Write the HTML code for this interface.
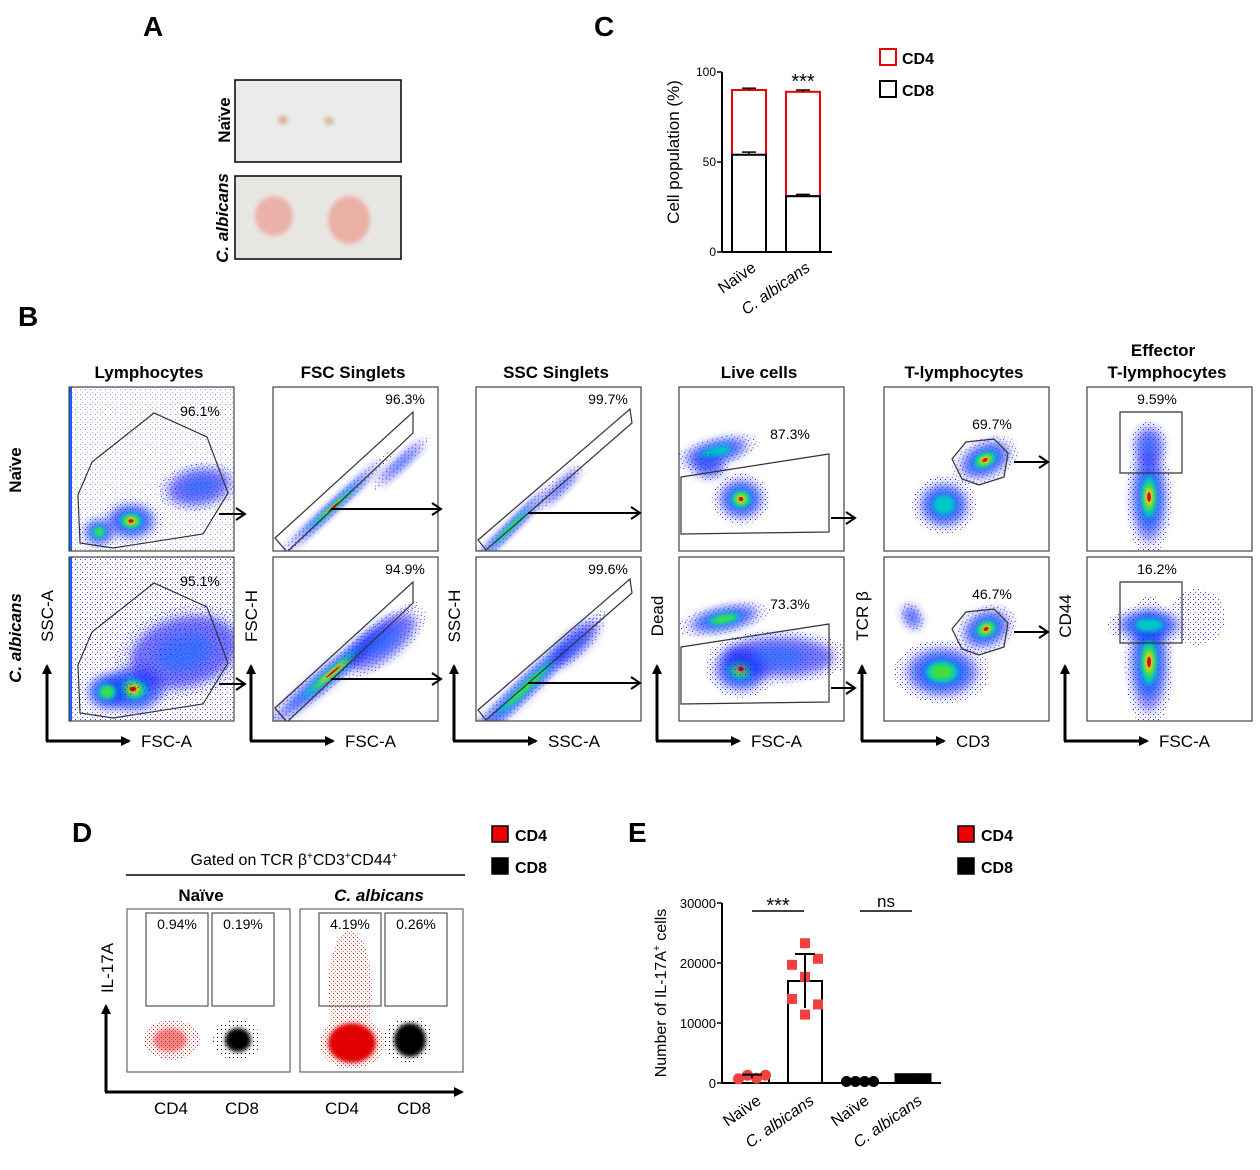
<!DOCTYPE html>
<html><head><meta charset="utf-8">
<style>
html,body{margin:0;padding:0;background:#fff;}
svg{display:block;font-family:"Liberation Sans",Arial,sans-serif;}
</style></head>
<body>
<svg id="fig" width="1260" height="1170" viewBox="0 0 1260 1170" xmlns="http://www.w3.org/2000/svg">
<defs>
<filter id="b2" x="-50%" y="-50%" width="200%" height="200%"><feGaussianBlur stdDeviation="2"/></filter>
<filter id="b5" x="-50%" y="-50%" width="200%" height="200%"><feGaussianBlur stdDeviation="5"/></filter>
<filter id="b10" x="-50%" y="-50%" width="200%" height="200%"><feGaussianBlur stdDeviation="10"/></filter>
<pattern id="speck" width="5" height="5" patternUnits="userSpaceOnUse"><rect x="1" y="2" width="1" height="1" fill="#2020ff"/><rect x="3" y="0" width="1" height="1" fill="#6060ff"/></pattern>
<pattern id="speckR" width="4" height="4" patternUnits="userSpaceOnUse"><rect x="1" y="1" width="1" height="1" fill="#e00000"/><rect x="3" y="3" width="1" height="1" fill="#ff6060"/></pattern>
<pattern id="speckK" width="4" height="4" patternUnits="userSpaceOnUse"><rect x="1" y="1" width="1" height="1" fill="#000"/></pattern>
<marker id="ah" markerWidth="10" markerHeight="10" refX="8" refY="5" orient="auto" markerUnits="userSpaceOnUse"><path d="M0,0 L10,5 L0,10 z" fill="#000"/></marker>
<marker id="oh" markerWidth="12" markerHeight="14" refX="10" refY="7" orient="auto" markerUnits="userSpaceOnUse"><path d="M1,1 L10,7 L1,13" fill="none" stroke="#000" stroke-width="2"/></marker>
</defs>

<g font-weight="bold" font-size="28">
<text x="143" y="36">A</text>
<text x="594" y="36">C</text>
<text x="18" y="326">B</text>
<text x="72" y="842">D</text>
<text x="628" y="842">E</text>
</g>

<g>
<rect x="235" y="80" width="166" height="82" fill="#ebebea" stroke="#000" stroke-width="1.5"/>
<ellipse cx="283" cy="120" rx="5" ry="4" fill="#d9a79a" filter="url(#b2)"/>
<ellipse cx="329" cy="121" rx="5" ry="4" fill="#d7b8a2" filter="url(#b2)"/>
<rect x="235" y="176" width="166" height="83" fill="#e8e6e3" stroke="#000" stroke-width="1.5"/>
<ellipse cx="274" cy="216" rx="19" ry="20" fill="#eab2a8" filter="url(#b2)"/>
<ellipse cx="349" cy="220" rx="21" ry="24" fill="#ebb0a5" filter="url(#b2)"/>
<text transform="translate(230,120) rotate(-90)" text-anchor="middle" font-weight="bold" font-size="17">Naïve</text>
<text transform="translate(228,218) rotate(-90)" text-anchor="middle" font-weight="bold" font-style="italic" font-size="17">C. albicans</text>
</g>

<g id="chartC"></g>
<g id="flowB"></g>
<g id="panelD"></g>
<g id="chartE"></g>
</svg>

<script>
// ---------- Panel C data ----------
const cGroups = ["Naïve", "C. albicans"];
const cCD8 = [54, 31];
const cCD8Err = [1.5, 1];
const cTotal = [90, 89];
const cTotalErr = [1, 1];
const cTicks = [0, 50, 100];

// ---------- Panel E data ----------
const eGroups = ["Naïve", "C. albicans", "Naïve", "C. albicans"];
const eMeans = [1100, 17000, 250, 800];
const eErr = [300, 4500, 50, 100];
const ePoints0 = [700, 1300, 800, 1300];
const ePoints1 = [23300, 20700, 19700, 17700, 14000, 13100, 11400];
const ePoints2 = [250, 250, 250, 250];
const ePoints3 = [800, 800, 800, 800];
const eTicks = [0, 10000, 20000, 30000];

const NS = "http://www.w3.org/2000/svg";
function mk(parent, tag, attrs, text) {
  const el = document.createElementNS(NS, tag);
  for (const k in attrs) el.setAttribute(k, attrs[k]);
  if (text !== undefined) el.textContent = text;
  parent.appendChild(el);
  return el;
}

// ---------- Chart C ----------
(function(){
  const g = document.getElementById('chartC');
  const y0 = 252, y1 = 72, axX = 722;
  const yC = v => y0 - (v / 100) * (y0 - y1);
  const xC = i => 732 + i * 54;
  const bw = 34;
  let ax = mk(g, 'line', {x1: axX, y1: y1, x2: axX, y2: y0, stroke: '#000', 'stroke-width': 2});
  
  
  let xa = mk(g, 'line', {x1: axX, y1: y0, x2: 832, y2: y0, stroke: '#000', 'stroke-width': 2});
  
  
  cTicks.forEach(t => {
    mk(g, 'line', {x1: axX - 5, y1: yC(t), x2: axX, y2: yC(t), stroke: '#000', 'stroke-width': 1.5});
    let tl = mk(g, 'text', {x: axX - 6, y: yC(t) + 4, 'text-anchor': 'end', 'font-size': 12}, t);
    
    
  });
  let yl = mk(g, 'text', {transform: 'translate(679,152) rotate(-90)', 'text-anchor': 'middle', 'font-size': 17}, 'Cell population (%)');
  
  
  cGroups.forEach((gname, i) => {
    const x = xC(i);
    let r4 = mk(g, 'rect', {x: x, y: yC(cTotal[i]), width: bw, height: yC(cCD8[i]) - yC(cTotal[i]), fill: '#fff', stroke: '#e00', 'stroke-width': 2});
    
    
    let r8 = mk(g, 'rect', {x: x, y: yC(cCD8[i]), width: bw, height: y0 - yC(cCD8[i]), fill: '#fff', stroke: '#000', 'stroke-width': 2});
    
    
    [[cTotal[i], cTotalErr[i]], [cCD8[i], cCD8Err[i]]].forEach(([v, e]) => {
      mk(g, 'line', {x1: x + bw/2, y1: yC(v + e), x2: x + bw/2, y2: yC(v), stroke: '#000', 'stroke-width': 1.5});
      mk(g, 'line', {x1: x + 10, y1: yC(v + e), x2: x + bw - 10, y2: yC(v + e), stroke: '#000', 'stroke-width': 1.5});
    });
    let lb = mk(g, 'text', {transform: `translate(${x + bw/2 + 8},${y0 + 18}) rotate(-35)`, 'text-anchor': 'end', 'font-size': 16, 'font-style': i === 1 ? 'italic' : 'normal'}, i === 1 ? 'C. albicans' : gname);
    
    
  });
  let st = mk(g, 'text', {x: xC(1) + bw/2, y: yC(cTotal[1] + cTotalErr[1]) - 2, 'text-anchor': 'middle', 'font-size': 20}, '***');
  
  
  let l1 = mk(g, 'rect', {x: 880, y: 49, width: 16, height: 16, fill: '#fff', stroke: '#e00', 'stroke-width': 2});
  
  
  let l1t = mk(g, 'text', {x: 902, y: 64, 'font-size': 16, 'font-weight': 'bold'}, 'CD4');
  
  
  let l2 = mk(g, 'rect', {x: 880, y: 81, width: 16, height: 16, fill: '#fff', stroke: '#000', 'stroke-width': 2});
  
  
  let l2t = mk(g, 'text', {x: 902, y: 96, 'font-size': 16, 'font-weight': 'bold'}, 'CD8');
  
  
})();

// ---------- Panel B flow plots ----------
(function(){
  const g = document.getElementById('flowB');
  const colX = [69, 273, 476, 679, 884, 1087];
  const rowY = [387, 557];
  const W = 165, H = 164;
  const titles = ["Lymphocytes", "FSC Singlets", "SSC Singlets", "Live cells", "T-lymphocytes", "T-lymphocytes"];
  const pct = [["96.1%","95.1%"],["96.3%","94.9%"],["99.7%","99.6%"],["87.3%","73.3%"],["69.7%","46.7%"],["9.59%","16.2%"]];
  const pctPos = [[131,29],[132,17],[132,17],[111,52],[108,42],[70,17]];
  const xLab = ["FSC-A","FSC-A","SSC-A","FSC-A","CD3","FSC-A"];
  const yLab = ["SSC-A","FSC-H","SSC-H","Dead","TCR β","CD44"];
  const gates = [
    "11,156 9,108 23,75 85,26 138,50 159,106 134,147 44,161",
    "2,151 140,25 140,46 14,165",
    "2,153 154,22 156,36 10,163",
    "2,90 150,67 150,145 2,147",
    "68,72 82,55 110,52 124,66 120,90 95,98 78,92",
    "33,25 95,25 95,86 33,86"
  ];
  titles.forEach((t, c) => {
    const tt = mk(g, 'text', {x: colX[c] + 80, y: 378, 'text-anchor': 'middle', 'font-size': 17, 'font-weight': 'bold'}, t);
    
    
  });
  const ef = mk(g, 'text', {x: colX[5] + 76, y: 356, 'text-anchor': 'middle', 'font-size': 17, 'font-weight': 'bold'}, 'Effector');
  
  

  function blob(p, cx, cy, rx, ry, rot, hot) {
    const tr = `rotate(${rot} ${cx} ${cy})`;
    mk(p, 'ellipse', {cx, cy, rx: rx*1.6, ry: ry*1.6, fill: 'url(#speck)', transform: tr});
    mk(p, 'ellipse', {cx, cy, rx: rx*1.2, ry: ry*1.2, fill: '#1a1aff', opacity: 0.5, filter: 'url(#b5)', transform: tr});
    mk(p, 'ellipse', {cx, cy, rx: rx*0.85, ry: ry*0.85, fill: '#0a5cff', opacity: 0.8, filter: 'url(#b5)', transform: tr});
    mk(p, 'ellipse', {cx, cy, rx: rx*0.55, ry: ry*0.55, fill: '#00c8c8', filter: 'url(#b2)', transform: tr});
    if (hot > 0) mk(p, 'ellipse', {cx, cy, rx: rx*0.38, ry: ry*0.38, fill: '#40e040', filter: 'url(#b2)', transform: tr});
    if (hot > 1) mk(p, 'ellipse', {cx, cy, rx: rx*0.24, ry: ry*0.24, fill: '#ffd000', filter: 'url(#b2)', transform: tr});
    if (hot > 1) mk(p, 'ellipse', {cx, cy, rx: rx*0.13, ry: ry*0.13, fill: '#e00000', transform: tr});
  }
  // blobs: [cx,cy,rx,ry,rot,hot]; hot -1 = speckle only, -2 = blue haze
  const blobs = [
    [[[62,134,20,14,0,2],[130,100,32,18,-10,-2],[30,145,12,10,0,1]], [[64,132,26,18,0,2],[115,95,55,35,-15,-2],[38,135,16,14,0,1],[70,60,60,45,0,-1]]],
    [[[60,120,55,4,-43,2],[128,76,30,5,-43,-2]], [[60,115,70,7,-40,2],[110,85,40,16,-38,-2]]],
    [[[35,140,45,4,-45,1],[85,100,25,5,-45,-2]], [[50,130,70,7,-44,1],[100,86,30,10,-44,-2]]],
    [[[62,112,18,16,0,2],[37,65,28,9,-15,0],[30,80,15,10,0,-2]], [[62,112,22,18,0,2],[45,62,30,9,-12,1],[100,100,55,20,0,-2]]],
    [[[101,73,22,13,-25,2],[60,118,20,18,0,0]], [[102,72,20,14,-25,2],[58,115,30,20,0,1],[28,60,8,12,-30,-2]]],
    [[[62,110,14,38,0,2],[62,60,14,20,0,-2]], [[62,105,15,42,0,2],[62,68,26,12,0,0],[110,60,28,28,0,-1]]]
  ];
  const arrows = [
    [[150,127,176,127],[150,127,176,127]],
    [[58,122,168,122],[58,122,168,122]],
    [[52,126,164,126],[52,126,164,126]],
    [[152,131,176,131],[152,131,176,131]],
    [[130,75,164,75],[130,75,164,75]],
    null
  ];
  colX.forEach((x0, c) => {
    rowY.forEach((y0, r) => {
      const p = mk(g, 'g', {});
      
      
      const cid = 'clip' + c + r;
      const cp = mk(p, 'clipPath', {id: cid});
      mk(cp, 'rect', {x: x0, y: y0, width: W, height: H});
      const inner = mk(p, 'g', {'clip-path': `url(#${cid})`});
      const inn2 = mk(inner, 'g', {transform: `translate(${x0},${y0})`});
      if (c === 0) { mk(inn2, 'rect', {x: 0, y: 0, width: W, height: H, fill: 'url(#speck)', opacity: r ? 0.9 : 0.5}); mk(inn2, 'rect', {x: 0, y: 0, width: 3, height: H, fill: '#1060ff'}); }
      blobs[c][r].forEach(b => {
        if (b[5] === -1) { mk(inn2, 'ellipse', {cx: b[0], cy: b[1], rx: b[2], ry: b[3], fill: 'url(#speck)'}); return; }
        if (b[5] === -2) {
          const tr = `rotate(${b[4]} ${b[0]} ${b[1]})`;
          mk(inn2, 'ellipse', {cx: b[0], cy: b[1], rx: b[2]*1.3, ry: b[3]*1.3, fill: 'url(#speck)', transform: tr});
          mk(inn2, 'ellipse', {cx: b[0], cy: b[1], rx: b[2], ry: b[3], fill: '#1a1aff', opacity: 0.6, filter: 'url(#b5)', transform: tr});
          mk(inn2, 'ellipse', {cx: b[0], cy: b[1], rx: b[2]*0.5, ry: b[3]*0.5, fill: '#1a70ff', opacity: 0.6, filter: 'url(#b5)', transform: tr});
          return;
        }
        blob(inn2, b[0], b[1], b[2], b[3], b[4], b[5]);
      });
      mk(p, 'rect', {x: x0, y: y0, width: W, height: H, fill: 'none', stroke: '#444', 'stroke-width': 1.2});
      const gate = mk(inn2, 'polygon', {points: gates[c], fill: 'none', stroke: '#333', 'stroke-width': 1.2});
      
      
      const pt = mk(p, 'text', {x: x0 + pctPos[c][0], y: y0 + pctPos[c][1], 'text-anchor': 'middle', 'font-size': 14}, pct[c][r]);
      
      
      if (arrows[c]) {
        const a = arrows[c][r];
        mk(p, 'line', {x1: x0 + a[0], y1: y0 + a[1], x2: x0 + a[2], y2: y0 + a[3], stroke: '#000', 'stroke-width': 2, 'marker-end': 'url(#oh)'});
      }
    });
    const ax = colX[c] - 22;
    const ay = 741;
    const va = mk(g, 'line', {x1: ax, y1: ay, x2: ax, y2: 666, stroke: '#000', 'stroke-width': 3, 'marker-end': 'url(#ah)'});
    
    
    const ha = mk(g, 'line', {x1: ax - 1, y1: ay, x2: ax + 82, y2: ay, stroke: '#000', 'stroke-width': 3, 'marker-end': 'url(#ah)'});
    
    
    const xl = mk(g, 'text', {x: ax + 94, y: ay + 6, 'font-size': 17}, xLab[c]);
    
    
    const yl = mk(g, 'text', {transform: `translate(${ax + 6},${616}) rotate(-90)`, 'text-anchor': 'middle', 'font-size': 17}, yLab[c]);
    
    
  });
  const rn = mk(g, 'text', {transform: 'translate(21,470) rotate(-90)', 'text-anchor': 'middle', 'font-size': 17, 'font-weight': 'bold'}, 'Naïve');
  
  
  const rc = mk(g, 'text', {transform: 'translate(21,638) rotate(-90)', 'text-anchor': 'middle', 'font-size': 17, 'font-weight': 'bold', 'font-style': 'italic'}, 'C. albicans');
  
  
})();

// ---------- Panel D ----------
(function(){
  const g = document.getElementById('panelD');
  const t = mk(g, 'text', {x: 294, y: 865, 'text-anchor': 'middle', 'font-size': 16});
  t.innerHTML = 'Gated on TCR β<tspan dy="-6" font-size="10">+</tspan><tspan dy="6">CD3</tspan><tspan dy="-6" font-size="10">+</tspan><tspan dy="6">CD44</tspan><tspan dy="-6" font-size="10">+</tspan>';
  
  
  mk(g, 'line', {x1: 126, y1: 875, x2: 465, y2: 875, stroke: '#000', 'stroke-width': 1.5});
  const n = mk(g, 'text', {x: 201, y: 901, 'text-anchor': 'middle', 'font-size': 17, 'font-weight': 'bold'}, 'Naïve');
  
  
  const ca = mk(g, 'text', {x: 379, y: 901, 'text-anchor': 'middle', 'font-size': 17, 'font-weight': 'bold', 'font-style': 'italic'}, 'C. albicans');
  
  
  const boxes = [[127, ["0.94%","0.19%"], 0], [300, ["4.19%","0.26%"], 1]];
  boxes.forEach(([x0, pc, big]) => {
    const p = mk(g, 'g', {});
    
    
    mk(p, 'rect', {x: x0, y: 909, width: 163, height: 163, fill: '#fff', stroke: '#666', 'stroke-width': 1.2});
    if (big) {
      mk(p, 'ellipse', {cx: x0 + 50, cy: 990, rx: 22, ry: 60, fill: 'url(#speckR)', opacity: 0.9});
      mk(p, 'ellipse', {cx: x0 + 52, cy: 1043, rx: 32, ry: 26, fill: 'url(#speckR)'});
      mk(p, 'ellipse', {cx: x0 + 52, cy: 1043, rx: 24, ry: 20, fill: '#e00000', filter: 'url(#b2)'});
      mk(p, 'ellipse', {cx: x0 + 108, cy: 1040, rx: 25, ry: 22, fill: 'url(#speckK)'});
      mk(p, 'ellipse', {cx: x0 + 110, cy: 1040, rx: 16, ry: 17, fill: '#000', filter: 'url(#b2)'});
    } else {
      mk(p, 'ellipse', {cx: x0 + 45, cy: 1040, rx: 28, ry: 20, fill: 'url(#speckR)'});
      mk(p, 'ellipse', {cx: x0 + 43, cy: 1040, rx: 17, ry: 12, fill: '#e02020', opacity: 0.55, filter: 'url(#b2)'});
      mk(p, 'ellipse', {cx: x0 + 110, cy: 1040, rx: 24, ry: 20, fill: 'url(#speckK)'});
      mk(p, 'ellipse', {cx: x0 + 111, cy: 1040, rx: 13, ry: 12, fill: '#000', filter: 'url(#b2)'});
    }
    [[x0 + 19, pc[0]], [x0 + 85, pc[1]]].forEach(([gx, s]) => {
      const gr = mk(p, 'rect', {x: gx, y: 913, width: 62, height: 93, fill: 'none', stroke: '#555', 'stroke-width': 1.2});
      
      
      const tx = mk(p, 'text', {x: gx + 31, y: 929, 'text-anchor': 'middle', 'font-size': 14}, s);
      
      
    });
  });
  mk(g, 'line', {x1: 106, y1: 1092, x2: 106, y2: 1006, stroke: '#000', 'stroke-width': 3, 'marker-end': 'url(#ah)'});
  mk(g, 'line', {x1: 105, y1: 1092, x2: 462, y2: 1092, stroke: '#000', 'stroke-width': 3, 'marker-end': 'url(#ah)'});
  const il = mk(g, 'text', {transform: 'translate(113,968) rotate(-90)', 'text-anchor': 'middle', 'font-size': 17}, 'IL-17A');
  
  
  [[171,'CD4'],[242,'CD8'],[342,'CD4'],[414,'CD8']].forEach(([x, s]) => {
    const tx = mk(g, 'text', {x, y: 1114, 'text-anchor': 'middle', 'font-size': 17}, s);
    
    
  });
  [[826,'#e00','CD4'],[858,'#000','CD8']].forEach(([y, col, s]) => {
    const r = mk(g, 'rect', {x: 492, y, width: 16, height: 16, fill: col, stroke: '#000', 'stroke-width': 1.5});
    
    
    const tx = mk(g, 'text', {x: 515, y: y + 15, 'font-size': 16, 'font-weight': 'bold'}, s);
    
    
  });
})();

// ---------- Chart E ----------
(function(){
  const g = document.getElementById('chartE');
  const y0 = 1083, y1 = 903, axX = 722;
  const yE = v => y0 - (v / 30000) * (y0 - y1);
  const xCenter = [752, 805, 860, 913];
  const bw = 34;
  mk(g, 'line', {x1: axX, y1: y1, x2: axX, y2: y0, stroke: '#000', 'stroke-width': 2});
  mk(g, 'line', {x1: axX, y1: y0, x2: 941, y2: y0, stroke: '#000', 'stroke-width': 2});
  eTicks.forEach(t => {
    mk(g, 'line', {x1: axX - 5, y1: yE(t), x2: axX, y2: yE(t), stroke: '#000', 'stroke-width': 1.5});
    const tl = mk(g, 'text', {x: axX - 6, y: yE(t) + 5, 'text-anchor': 'end', 'font-size': 13}, t);
    
    
  });
  const yt = mk(g, 'text', {transform: 'translate(666,993) rotate(-90)', 'text-anchor': 'middle', 'font-size': 16});
  yt.innerHTML = 'Number of IL-17A<tspan dy="-6" font-size="10">+</tspan><tspan dy="6"> cells</tspan>';
  
  
  const pts = [ePoints0, ePoints1, ePoints2, ePoints3];
  const colors = ['#f04040', '#f04040', '#000', '#000'];
  eGroups.forEach((name, i) => {
    const cx = xCenter[i];
    const bar = mk(g, 'rect', {x: cx - bw/2, y: yE(eMeans[i]), width: bw, height: y0 - yE(eMeans[i]), fill: '#fff', stroke: '#000', 'stroke-width': 2});
    
    
    const square = (i === 1 || i === 3);
    const n = pts[i].length;
    pts[i].forEach((v, k) => {
      let dx;
      if (i === 1) dx = [0, 13, -13, 0, -13, 13, 0][k] || 0;
      else dx = (k - (n - 1) / 2) * 9;
      let m;
      if (square) m = mk(g, 'rect', {x: cx + dx - 5, y: yE(v) - 5, width: 10, height: 10, fill: colors[i]});
      else m = mk(g, 'circle', {cx: cx + dx, cy: yE(v), r: 5.5, fill: colors[i]});
      
      
    });
    mk(g, 'line', {x1: cx, y1: yE(eMeans[i] + eErr[i]), x2: cx, y2: yE(eMeans[i] - eErr[i]), stroke: '#000', 'stroke-width': 2});
    mk(g, 'line', {x1: cx - 10, y1: yE(eMeans[i] + eErr[i]), x2: cx + 10, y2: yE(eMeans[i] + eErr[i]), stroke: '#000', 'stroke-width': 2});
    const lb = mk(g, 'text', {transform: `translate(${cx + 10},${y0 + 20}) rotate(-35)`, 'text-anchor': 'end', 'font-size': 16, 'font-style': (i % 2) ? 'italic' : 'normal'}, name);
    
    
  });
  [[752, 804, '***'], [860, 912, 'ns']].forEach(([a, b, s]) => {
    mk(g, 'line', {x1: a, y1: 911, x2: b, y2: 911, stroke: '#000', 'stroke-width': 1.5});
    const tx = mk(g, 'text', {x: (a + b) / 2, y: s === 'ns' ? 907 : 912, 'text-anchor': 'middle', 'font-size': s === 'ns' ? 17 : 20}, s);
    
    
  });
  [[826,'#e00','CD4'],[858,'#000','CD8']].forEach(([y, col, s]) => {
    const r = mk(g, 'rect', {x: 958, y, width: 16, height: 16, fill: col, stroke: '#000', 'stroke-width': 1.5});
    
    
    const tx = mk(g, 'text', {x: 981, y: y + 15, 'font-size': 16, 'font-weight': 'bold'}, s);
    
    
  });
})();
</script>
</body></html>
